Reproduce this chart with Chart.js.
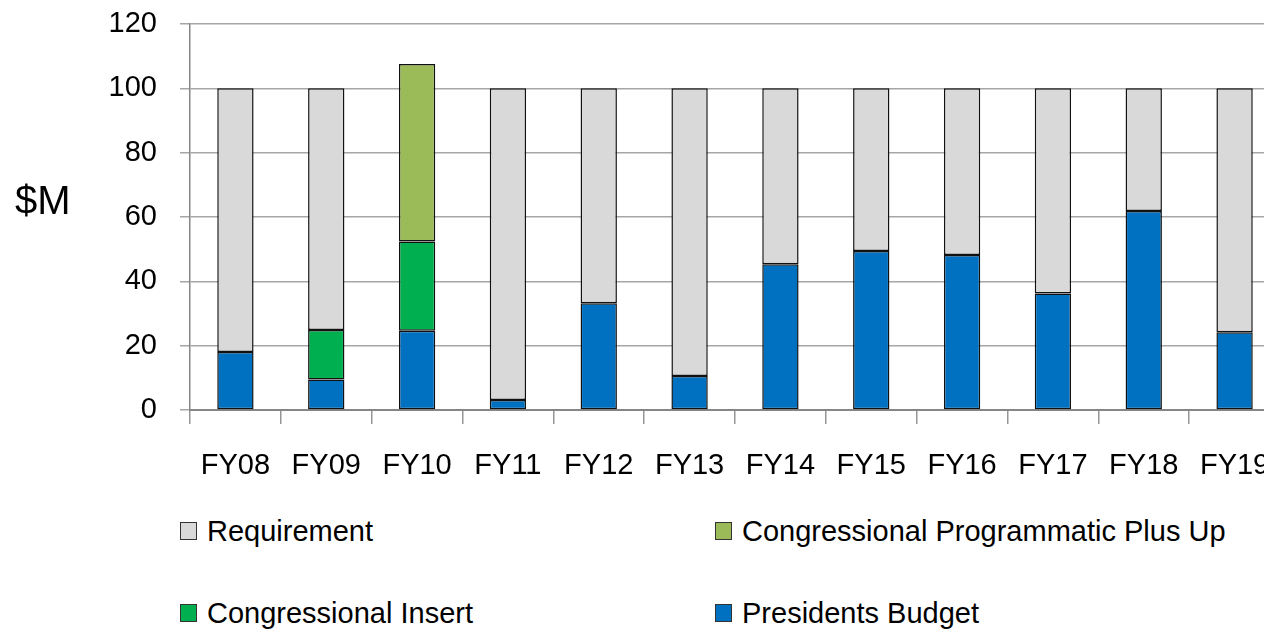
<!DOCTYPE html>
<html>
<head>
<meta charset="utf-8">
<script src="https://cdn.jsdelivr.net/npm/chart.js@4/dist/chart.umd.min.js"></script>
<style>
    body { margin: 0; background: #fff; overflow: hidden; font-family: "Liberation Sans", Arial, sans-serif; }
    #wrap { position: relative; width: 1264px; height: 634px; overflow: hidden; }
    #chartBox { position: absolute; left: 0; top: 0; width: 1280px; height: 490px; }
    #unit { position: absolute; left: 15px; top: 178px; font-size: 40px; color: #000; }
    #legend { position: absolute; left: 0; top: 0; }
    .lg-item { position: absolute; display: flex; align-items: center; font-size: 29px; color: #000; white-space: nowrap; }
    .lg-box { width: 15px; height: 16px; border: 1.5px solid #333; margin-right: 10px; }
</style>
</head>
<body>
<div id="wrap">
    <div id="chartBox"><canvas id="fundChart"></canvas></div>
    <div id="unit">$M</div>
    <div id="legend"></div>
</div>
<script>
// Chart data
const years = ['FY08', 'FY09', 'FY10', 'FY11', 'FY12', 'FY13', 'FY14', 'FY15', 'FY16', 'FY17', 'FY18', 'FY19'];
const presidentsBudget = [18, 9.5, 24.6, 3.1, 33.2, 10.6, 45.3, 49.4, 48.2, 36.2, 61.9, 24.2];
const congressionalInsert = [0, 15.4, 27.8, 0, 0, 0, 0, 0, 0, 0, 0, 0];
const programmaticPlusUp = [0, 0, 55.2, 0, 0, 0, 0, 0, 0, 0, 0, 0];
const requirement = [82, 75.1, 0, 96.9, 66.8, 89.4, 54.7, 50.6, 51.8, 63.8, 38.1, 75.8];
const yTicks = [0, 20, 40, 60, 80, 100, 120];

const tickFont = { family: '"Liberation Sans", Arial, sans-serif', size: 29 };

// keep the plot area where the original has it
function noPad(s) {
    s.paddingTop = 0;
    s.paddingBottom = 0;
    s.paddingLeft = 0;
    s.paddingRight = 0;
}

document.addEventListener('DOMContentLoaded', function() {
    const ctx = document.getElementById('fundChart').getContext('2d');
    const bar = (label, values, color) => ({
        label: label,
        data: values,
        backgroundColor: color,
        borderColor: '#111',
        borderWidth: 1.5,
        borderSkipped: false,
        barPercentage: 0.4,
        categoryPercentage: 1.0
    });

    const chart = new Chart(ctx, {
        type: 'bar',
        data: {
            labels: years,
            datasets: [
                bar('Presidents Budget', presidentsBudget, '#0070c0'),
                bar('Congressional Insert', congressionalInsert, '#00b050'),
                bar('Congressional Programmatic Plus Up', programmaticPlusUp, '#9bbb59'),
                bar('Requirement', requirement, '#d9d9d9')
            ]
        },
        options: {
            responsive: true,
            maintainAspectRatio: false,
            animation: false,
            layout: { padding: { top: 24, right: 0, left: 0, bottom: 0 } },
            plugins: { legend: { display: false }, tooltip: { enabled: false } },
            scales: {
                x: {
                    stacked: true,
                    afterFit: s => { s.height = 80; noPad(s); },
                    grid: { offset: true, drawOnChartArea: false, color: '#969696', lineWidth: 1.5, tickLength: 14 },
                    border: { color: '#868686', width: 2 },
                    ticks: { color: '#000', font: tickFont, padding: 25 }
                },
                y: {
                    stacked: true,
                    min: 0,
                    max: 120,
                    afterFit: s => { s.width = 190; noPad(s); },
                    afterBuildTicks: s => { s.ticks = yTicks.map(v => ({ value: v })); },
                    grid: { color: '#a6a6a6', lineWidth: 1.5, tickLength: 10 },
                    border: { color: '#868686', width: 1.5 },
                    ticks: { color: '#000', font: tickFont, padding: 23 }
                }
            }
        }
    });

    // legend laid out in two columns, like the original
    const spots = {
        'Requirement': [180, 531],
        'Congressional Programmatic Plus Up': [715, 531],
        'Congressional Insert': [180, 613],
        'Presidents Budget': [715, 613]
    };
    const legend = document.getElementById('legend');
    chart.data.datasets.forEach(ds => {
        const p = spots[ds.label];
        const item = document.createElement('div');
        item.className = 'lg-item';
        item.style.left = p[0] + 'px';
        item.style.top = (p[1] - 18) + 'px';
        item.style.height = '36px';
        item.innerHTML = '<span class="lg-box" style="background:' + ds.backgroundColor + '"></span>' + ds.label;
        legend.appendChild(item);
    });
});
</script>
</body>
</html>
